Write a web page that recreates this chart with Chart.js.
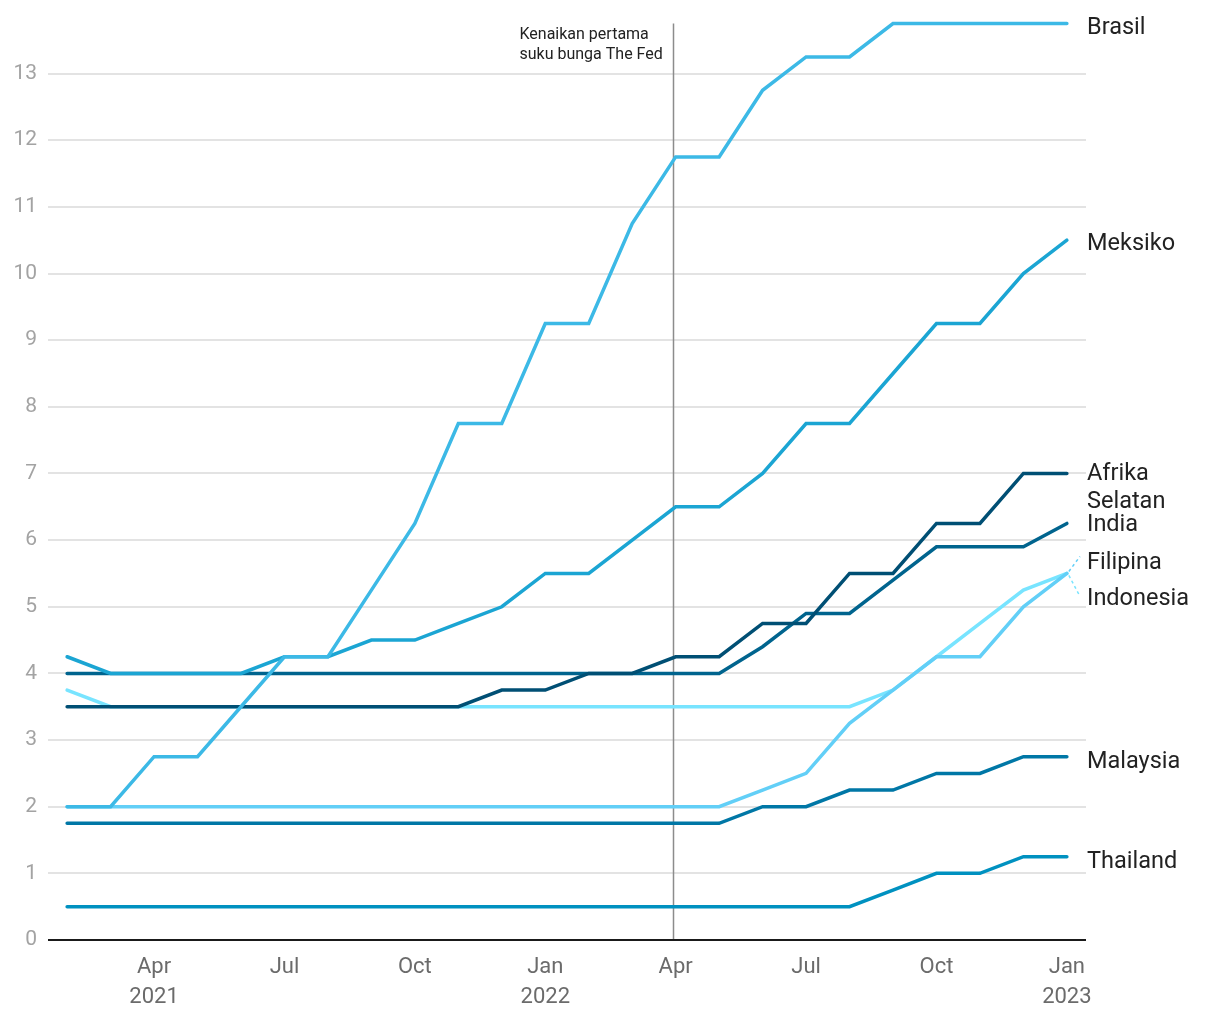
<!DOCTYPE html>
<html>
<head>
<meta charset="utf-8">
<script src="https://cdn.jsdelivr.net/npm/chart.js@4/dist/chart.umd.min.js"></script>
<style>
html,body{margin:0;padding:0;background:#fff;}
#wrap{position:relative;width:1220px;height:1020px;}
</style>
</head>
<body>
<div id="wrap"><canvas id="c" width="1220" height="1020"></canvas></div>
<script>
// Months Feb 2021 .. Jan 2023
const months = ["Feb 2021","Mar 2021","Apr 2021","May 2021","Jun 2021","Jul 2021","Aug 2021","Sep 2021","Oct 2021","Nov 2021","Dec 2021","Jan 2022","Feb 2022","Mar 2022","Apr 2022","May 2022","Jun 2022","Jul 2022","Aug 2022","Sep 2022","Oct 2022","Nov 2022","Dec 2022","Jan 2023"];
const tickIndex = [2,5,8,11,14,17,20,23];
const tickLabels = [["Apr","2021"],"Jul","Oct",["Jan","2022"],"Apr","Jul","Oct",["Jan","2023"]];

const brasil    = [2,2,2.75,2.75,3.5,4.25,4.25,5.25,6.25,7.75,7.75,9.25,9.25,10.75,11.75,11.75,12.75,13.25,13.25,13.75,13.75,13.75,13.75,13.75];
const meksiko   = [4.25,4,4,4,4,4.25,4.25,4.5,4.5,4.75,5,5.5,5.5,6,6.5,6.5,7,7.75,7.75,8.5,9.25,9.25,10,10.5];
const afrikaSel = [3.5,3.5,3.5,3.5,3.5,3.5,3.5,3.5,3.5,3.5,3.75,3.75,4,4,4.25,4.25,4.75,4.75,5.5,5.5,6.25,6.25,7,7];
const india     = [4,4,4,4,4,4,4,4,4,4,4,4,4,4,4,4,4.4,4.9,4.9,5.4,5.9,5.9,5.9,6.25];
const filipina  = [2,2,2,2,2,2,2,2,2,2,2,2,2,2,2,2,2.25,2.5,3.25,3.75,4.25,4.25,5,5.5];
const indonesia = [3.75,3.5,3.5,3.5,3.5,3.5,3.5,3.5,3.5,3.5,3.5,3.5,3.5,3.5,3.5,3.5,3.5,3.5,3.5,3.75,4.25,4.75,5.25,5.5];
const malaysia  = [1.75,1.75,1.75,1.75,1.75,1.75,1.75,1.75,1.75,1.75,1.75,1.75,1.75,1.75,1.75,1.75,2,2,2.25,2.25,2.5,2.5,2.75,2.75];
const thailand  = [0.5,0.5,0.5,0.5,0.5,0.5,0.5,0.5,0.5,0.5,0.5,0.5,0.5,0.5,0.5,0.5,0.5,0.5,0.5,0.75,1,1,1.25,1.25];

const fedHikeX = 13.93; // mid-March 2022
const fedLabel = ["Kenaikan pertama","suku bunga The Fed"];

const series = [
  {name:["Brasil"], data:brasil, color:"#3cb9e6", dy:5},
  {name:["Meksiko"], data:meksiko, color:"#1ba5d3", dy:4},
  {name:["Afrika","Selatan"], data:afrikaSel, color:"#004f74", dy:1},
  {name:["India"], data:india, color:"#00648e", dy:2},
  {name:["Filipina"], data:filipina, color:"#62cff7", dy:-10, leader:true},
  {name:["Indonesia"], data:indonesia, color:"#78e4ff", dy:26, leader:true},
  {name:["Malaysia"], data:malaysia, color:"#0077a6", dy:5},
  {name:["Thailand"], data:thailand, color:"#0091c0", dy:5}
];

const datasets = series.map((s,i)=>({
  label:s.name.join(" "),
  data:s.data.map((v,j)=>({x:j,y:v})),
  borderColor:s.color,
  backgroundColor:s.color,
  borderWidth:3.5,
  pointRadius:0,
  tension:0,
  clip:false,
  borderCapStyle:"round",
  borderJoinStyle:"miter"
}));

const overlay = {
  id:"overlay",
  beforeDatasetsDraw(chart){
    const {ctx, chartArea, scales:{x,y}} = chart;
    const px = Math.round(x.getPixelForValue(fedHikeX)) + 0.5;
    ctx.save();
    ctx.strokeStyle = "#8c8c8c";
    ctx.lineWidth = 1.5;
    ctx.beginPath();
    ctx.moveTo(px, chartArea.top);
    ctx.lineTo(px, chartArea.bottom);
    ctx.stroke();
    ctx.fillStyle = "#222";
    ctx.font = "16px Roboto";
    ctx.textBaseline = "middle";
    ctx.textAlign = "left";
    ctx.fillText(fedLabel[0], px - 154, 35);
    ctx.fillText(fedLabel[1], px - 154, 55);
    // zero line
    const y0 = Math.round(y.getPixelForValue(0));
    ctx.strokeStyle = "#1a1a1a";
    ctx.lineWidth = 2;
    ctx.beginPath();
    ctx.moveTo(chartArea.left, y0);
    ctx.lineTo(chartArea.right, y0);
    ctx.stroke();
    ctx.restore();
  },
  afterDatasetsDraw(chart){
    const {ctx, scales:{x,y}} = chart;
    ctx.save();
    ctx.font = "23.5px Roboto";
    ctx.fillStyle = "#222";
    ctx.textAlign = "left";
    ctx.textBaseline = "middle";
    const lx = 1087;
    series.forEach(s=>{
      const last = s.data.length-1;
      const ex = x.getPixelForValue(last);
      const ey = y.getPixelForValue(s.data[last]);
      const ty = ey + s.dy;
      if (s.leader){
        ctx.save();
        ctx.strokeStyle = s.color;
        ctx.lineWidth = 1.5;
        ctx.setLineDash([3,3]);
        ctx.beginPath();
        ctx.moveTo(ex+2, ey + (s.dy<0?-2:2));
        ctx.lineTo(lx-7, ty + (s.dy<0?-7:-3));
        ctx.stroke();
        ctx.restore();
      }
      s.name.forEach((n,k)=>ctx.fillText(n, lx, ty + k*28));
    });
    ctx.restore();
  }
};

new Chart(document.getElementById("c"), {
  type:"line",
  data:{datasets},
  plugins:[overlay],
  options:{
    responsive:false,
    animation:false,
    events:[],
    layout:{padding:{top:22,right:134,left:0,bottom:0}},
    plugins:{legend:{display:false},tooltip:{enabled:false}},
    scales:{
      x:{
        type:"linear",
        min:-0.44, max:23.44,
        grid:{display:false, drawTicks:false},
        border:{display:false},
        afterBuildTicks(axis){ axis.ticks = tickIndex.map(v=>({value:v})); },
        ticks:{
          callback:(v)=>{ const i = tickIndex.indexOf(v); return i>=0 ? tickLabels[i] : ""; },
          color:"#6b6b6b",
          font:{family:"Roboto", size:22, lineHeight:1.36},
          padding:13,
          maxRotation:0,
          autoSkip:false
        },
        afterFit(axis){ axis.height = 80; }
      },
      y:{
        min:0, max:13.75,
        grid:{color:"#e3e3e3", lineWidth:2, drawTicks:false},
        border:{display:false},
        afterBuildTicks(axis){ const t=[]; for(let v=0; v<=13; v++) t.push({value:v}); axis.ticks=t; },
        ticks:{
          color:"#a3a3a3",
          font:{family:"Roboto", size:21},
          padding:11
        },
        afterFit(axis){ axis.width = 48; }
      }
    }
  }
});
</script>
</body>
</html>
